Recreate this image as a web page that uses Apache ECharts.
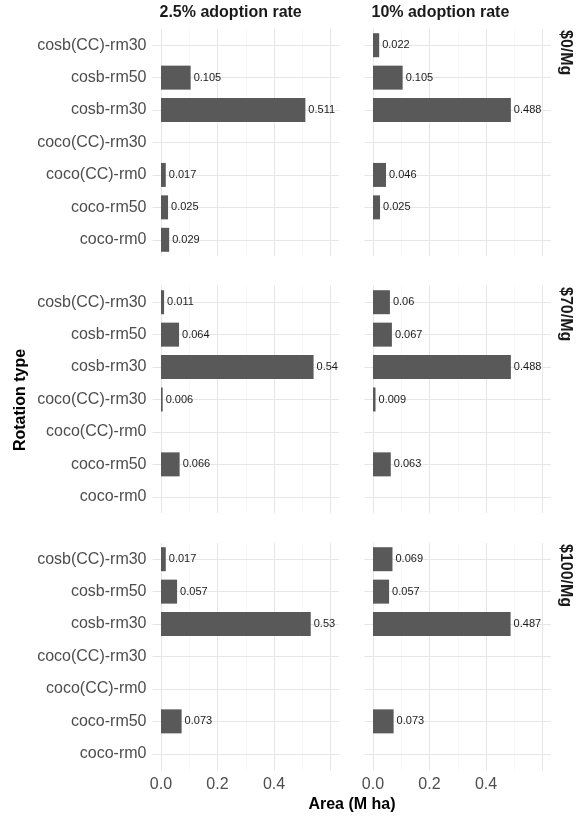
<!DOCTYPE html>
<html>
<head>
<meta charset="utf-8">
<script src="https://cdn.jsdelivr.net/npm/echarts@6/dist/echarts.min.js"></script>
<style>
  html, body { margin: 0; padding: 0; background: #fff; }
  #main { width: 576px; height: 816px; }
</style>
</head>
<body>
<div id="main"></div>
<script>
var rotations = ['cosb(CC)-rm30', 'cosb-rm50', 'cosb-rm30', 'coco(CC)-rm30', 'coco(CC)-rm0', 'coco-rm50', 'coco-rm0'];
var adoptionRates = ['2.5% adoption rate', '10% adoption rate'];
var prices = ['$0/Mg', '$70/Mg', '$100/Mg'];
var xTicks = [0, 0.2, 0.4];
var xMajor = [0, 0.2, 0.4, 0.6];
var xMinor = [0.1, 0.3, 0.5];

// area in M ha, null = rotation not chosen
var price0_rate25 = [null, 0.105, 0.511, null, 0.017, 0.025, 0.029];
var price0_rate10 = [0.022, 0.105, 0.488, null, 0.046, 0.025, null];
var price70_rate25 = [0.011, 0.064, 0.54, 0.006, null, 0.066, null];
var price70_rate10 = [0.06, 0.067, 0.488, 0.009, null, 0.063, null];
var price100_rate25 = [0.017, 0.057, 0.53, null, null, 0.073, null];
var price100_rate10 = [0.069, 0.057, 0.487, null, null, 0.073, null];

var values = [
  [price0_rate25, price0_rate10],
  [price70_rate25, price70_rate10],
  [price100_rate25, price100_rate10]
];

var FONT = 'Liberation Sans, Arial, sans-serif';
var panelLeft = [152.5, 364.5];
var panelTop = [29, 286, 543];
var panelW = 186.5, panelH = 227;

var myChart = echarts.init(document.getElementById('main'));

var grids = [], xAxes = [], yAxes = [], series = [];

function gridLines() {
  var d = [];
  xMajor.forEach(function(v) {
    d.push({ xAxis: v, lineStyle: { color: '#e6e6e6', width: 1, type: 'solid' } });
  });
  xMinor.forEach(function(v) {
    d.push({ xAxis: v, lineStyle: { color: '#f2f2f2', width: 0.6, type: 'solid' } });
  });
  rotations.forEach(function(r) {
    d.push({ yAxis: r, lineStyle: { color: '#e6e6e6', width: 1, type: 'solid' } });
  });
  return d;
}

for (var r = 0; r < 3; r++) {
  for (var c = 0; c < 2; c++) {
    var idx = r * 2 + c;
    grids.push({ left: panelLeft[c], top: panelTop[r], width: panelW, height: panelH });
    xAxes.push({
      gridIndex: idx,
      type: 'value',
      min: -0.03,
      max: 0.63,
      splitLine: { show: false },
      axisLine: { show: false },
      axisTick: { show: false },
      axisLabel: {
        show: r === 2,
        customValues: xTicks,
        formatter: function(v) { return v.toFixed(1); },
        fontSize: 16,
        color: '#4d4d4d',
        fontFamily: FONT,
        margin: 7
      }
    });
    yAxes.push({
      gridIndex: idx,
      type: 'category',
      data: rotations,
      inverse: true,
      axisLine: { show: false },
      axisTick: { show: false },
      splitLine: { show: false },
      axisLabel: {
        show: c === 0,
        fontSize: 16,
        color: '#4d4d4d',
        fontFamily: FONT,
        margin: 6
      }
    });
    series.push({
      type: 'bar',
      xAxisIndex: idx,
      yAxisIndex: idx,
      data: values[r][c],
      barWidth: 24,
      z: 2,
      itemStyle: { color: '#595959' },
      label: {
        show: true,
        position: 'right',
        distance: 3,
        fontSize: 11,
        color: '#1a1a1a',
        fontFamily: FONT
      },
      markLine: {
        silent: true,
        symbol: 'none',
        z: 1,
        label: { show: false },
        animation: false,
        data: gridLines()
      }
    });
  }
}

var graphics = [];
adoptionRates.forEach(function(t, c) {
  graphics.push({
    type: 'text', left: panelLeft[c] + 7, top: 5,
    style: { text: t, font: 'bold 16px ' + FONT, fill: '#1a1a1a' }
  });
});
prices.forEach(function(p, r) {
  graphics.push({
    type: 'text', x: 565, y: panelTop[r] + 1, rotation: -Math.PI / 2,
    style: { text: p, font: 'bold 16px ' + FONT, fill: '#1a1a1a', textAlign: 'left', textVerticalAlign: 'middle' }
  });
});
graphics.push({
  type: 'text', x: 21, y: 400, rotation: Math.PI / 2,
  style: { text: 'Rotation type', font: 'bold 16px ' + FONT, fill: '#000', textAlign: 'center', textVerticalAlign: 'middle' }
});
graphics.push({
  type: 'text', x: 352, y: 805,
  style: { text: 'Area (M ha)', font: 'bold 16px ' + FONT, fill: '#000', textAlign: 'center', textVerticalAlign: 'middle' }
});

var option = {
  animation: false,
  backgroundColor: '#fff',
  grid: grids,
  xAxis: xAxes,
  yAxis: yAxes,
  series: series,
  graphic: graphics
};

myChart.setOption(option);
</script>
</body>
</html>
